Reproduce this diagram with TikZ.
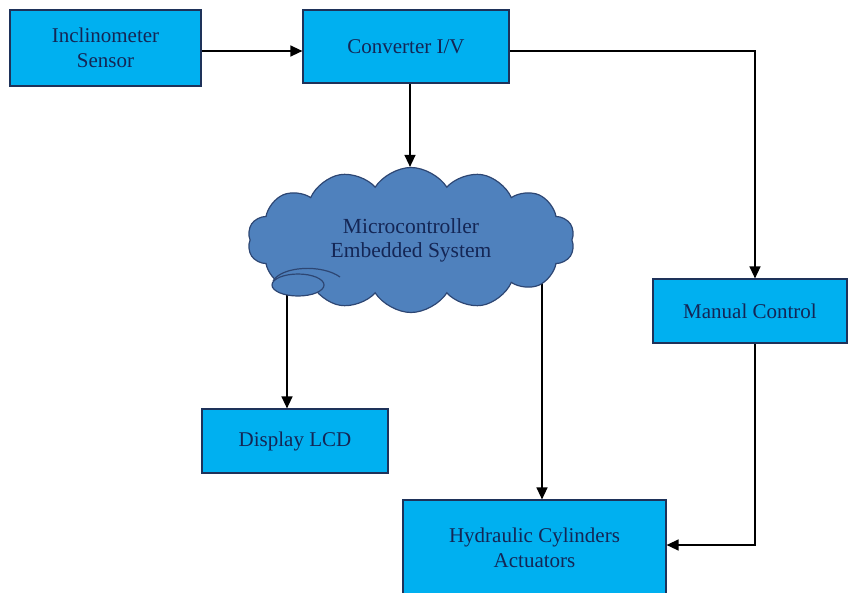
\documentclass[tikz,border=0pt]{standalone}
\usepackage{fontspec}
\setmainfont{Liberation Serif}
\usetikzlibrary{shapes.symbols,arrows.meta,backgrounds}
\definecolor{boxfill}{RGB}{0,176,240}
\definecolor{boxline}{RGB}{30,50,90}
\definecolor{cloudfill}{RGB}{79,129,189}
\definecolor{cloudline}{RGB}{45,70,115}
\definecolor{txt}{RGB}{20,38,85}
\begin{document}
\begin{tikzpicture}[x=1pt,y=-1pt,
  blockbox/.style={draw=boxline,line width=1.2pt,fill=boxfill,inner sep=0pt,align=center,text=txt,
    font=\fontsize{21}{25}\selectfont},
  arr/.style={line width=1.4pt,-{Triangle[length=12pt,width=11pt]}},
  plain/.style={line width=1.4pt}]
\useasboundingbox (0,0) rectangle (848,592);
\node[blockbox,minimum width=191pt,minimum height=76pt] (incl) at (105.5,48) {Inclinometer\\Sensor};
\node[blockbox,minimum width=206pt,minimum height=73pt] (conv) at (406,46.5) {Converter I/V};
\node[blockbox,minimum width=194pt,minimum height=64pt] (manual) at (750,311) {Manual Control};
\node[blockbox,minimum width=186pt,minimum height=64pt] (display) at (295,441) {Display LCD};
\node[blockbox,minimum width=263pt,minimum height=96pt] (hyd) at (534.5,548) {Hydraulic Cylinders\\Actuators};
\node[cloud,cloud puffs=14,cloud puff arc=115,aspect=2.3,draw=cloudline,line width=1.2pt,fill=cloudfill,
  minimum width=327pt,minimum height=145pt,inner sep=0pt,align=center,text=txt,
  font=\fontsize{21.5}{24}\selectfont] (cloud) at (411,240) {Microcontroller\\Embedded System};
\draw[draw=cloudline,line width=1.2pt,fill=cloudfill] (298,285) ellipse [x radius=26pt,y radius=11pt];
\draw[draw=cloudline,line width=1.2pt] (273,281) .. controls (282,266) and (322,264) .. (340,277);
\begin{scope}[on background layer]
\draw[arr] ([yshift=-3pt]incl.east) -- ([yshift=-3pt]incl.east -| conv.west);
\draw[arr] ([xshift=4pt]conv.south) -- ([xshift=4pt]conv.south |- cloud.north);
\draw[arr] ([yshift=-4.5pt]conv.east) -| ([xshift=5pt]manual.north);
\draw[arr] ([xshift=5pt]manual.south) |- ([yshift=3pt]hyd.east);
\draw[arr] ([xshift=-8pt]display.north |- cloud.center) -- ([xshift=-8pt]display.north);
\draw[arr] ([xshift=7.5pt]hyd.north |- cloud.center) -- ([xshift=7.5pt]hyd.north);
\end{scope}
\end{tikzpicture}
\end{document}
